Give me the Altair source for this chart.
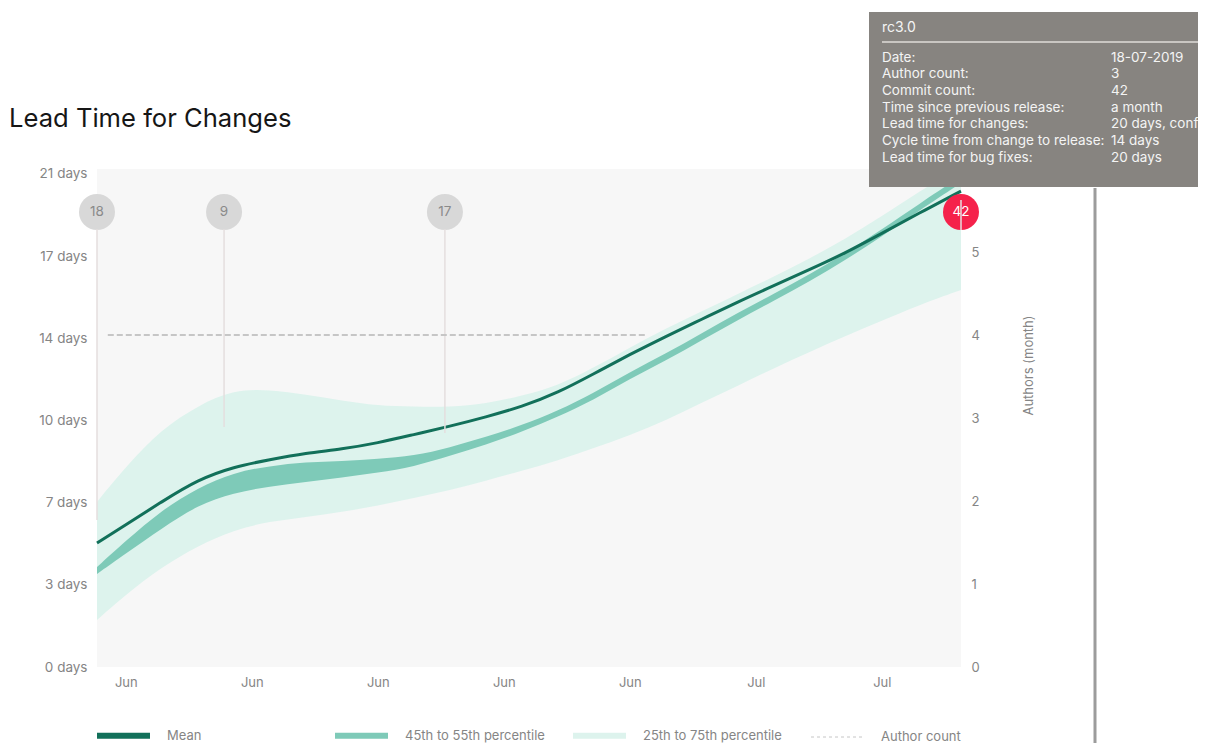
import altair as alt
import pandas as pd

# ---------------- data ----------------
dates = [
    "2019-05-31T09:36:00Z", "2019-06-02T00:00:00Z", "2019-06-04T00:00:00Z", "2019-06-06T00:00:00Z",
    "2019-06-08T00:00:00Z", "2019-06-10T00:00:00Z", "2019-06-12T00:00:00Z", "2019-06-14T00:00:00Z",
    "2019-06-16T00:00:00Z", "2019-06-18T00:00:00Z", "2019-06-20T00:00:00Z", "2019-06-22T00:00:00Z",
    "2019-06-24T00:00:00Z", "2019-06-26T00:00:00Z", "2019-06-28T00:00:00Z", "2019-06-30T00:00:00Z",
    "2019-07-02T00:00:00Z", "2019-07-04T00:00:00Z", "2019-07-06T00:00:00Z", "2019-07-08T00:00:00Z",
    "2019-07-10T00:00:00Z", "2019-07-12T00:00:00Z", "2019-07-14T00:00:00Z", "2019-07-16T00:00:00Z",
    "2019-07-18T09:36:00Z",
]
mean_days = [5.28, 6.06, 7.04, 7.98, 8.53, 8.83, 9.11, 9.28, 9.54, 9.90, 10.25, 10.65, 11.08,
             11.68, 12.49, 13.31, 14.08, 14.81, 15.55, 16.24, 16.93, 17.64, 18.47, 19.30, 20.27]
p55_days = [4.26, 5.37, 6.69, 7.63, 8.29, 8.56, 8.73, 8.77, 8.86, 8.99, 9.35, 9.79, 10.30,
            10.91, 11.67, 12.56, 13.35, 14.22, 15.08, 15.90, 16.72, 17.64, 18.64, 19.68, 20.91]
p45_days = [3.96, 4.83, 5.90, 6.90, 7.42, 7.69, 7.88, 8.07, 8.28, 8.53, 8.99, 9.47, 10.01,
            10.66, 11.38, 12.27, 13.05, 13.92, 14.78, 15.60, 16.42, 17.34, 18.34, 19.39, 20.61]
p75_days = [7.03, 8.53, 10.14, 11.13, 11.81, 11.81, 11.60, 11.35, 11.13, 11.09, 11.07, 11.22, 11.54,
            11.98, 12.75, 13.61, 14.42, 15.15, 15.89, 16.62, 17.40, 18.24, 19.20, 20.20, 21.38]
p25_days = [2.00, 3.08, 4.26, 5.16, 5.84, 6.20, 6.39, 6.60, 6.87, 7.20, 7.53, 7.93, 8.36,
            8.79, 9.33, 9.87, 10.50, 11.26, 11.97, 12.73, 13.42, 14.10, 14.74, 15.40, 16.06]

release_dates = ["2019-05-31T09:36:00Z", "2019-06-07T11:00:00Z", "2019-06-19T17:30:00Z", "2019-07-18T09:36:00Z"]
release_commits = [18, 9, 17, 42]
release_rule_low = [6.26, 10.22, 9.97, 18.61]
release_rule_high = [18.65, 18.65, 18.65, 19.89]
release_selected = [False, False, False, True]

author_months = ["2019-06-01T00:00:00Z", "2019-07-01T00:00:00Z"]
author_counts = [4, 4]

x_tick_dates = ["2019-06-02", "2019-06-09", "2019-06-16", "2019-06-23", "2019-06-30", "2019-07-07", "2019-07-14"]
y_tick_values = [0, 3.5, 7, 10.5, 14, 17.5, 21]
y_tick_labels = ["0 days", "3 days", "7 days", "10 days", "14 days", "17 days", "21 days"]
author_ticks = [0, 1, 2, 3, 4, 5]

legend_series = ["Mean", "45th to 55th percentile", "25th to 75th percentile", "Author count"]

chart_title = "Lead Time for Changes"
tooltip_title = "rc3.0"
tooltip_labels = ["Date:", "Author count:", "Commit count:", "Time since previous release:",
                  "Lead time for changes:", "Cycle time from change to release:", "Lead time for bug fixes:"]
tooltip_values = ["18-07-2019", "3", "42", "a month", "20 days, confidence", "14 days", "20 days"]

# ---------------- styles ----------------
DARK = "#12705a"
TEAL = "#7ecab8"
LIGHT = "#ddf3ed"
DASH = "#c6c6c6"
GRAY_TXT = "#858585"
FONT = "Inter"
W, H = 864, 498
INTERP = "basis"


def dt(s):
    t = pd.Timestamp(s)
    return alt.DateTime(year=t.year, month=t.month, date=t.day, hours=t.hour, minutes=t.minute, utc=True)


x_domain = [dt(release_dates[0]), dt(release_dates[-1])]
x_scale = alt.Scale(type="utc", domain=x_domain)

df = pd.DataFrame({"date": dates, "mean": mean_days, "p45": p45_days, "p55": p55_days,
                   "p25": p25_days, "p75": p75_days})
rel_df = pd.DataFrame({"date": release_dates, "commits": release_commits, "low": release_rule_low,
                       "high": release_rule_high, "sel": release_selected})
auth_df = pd.DataFrame({"month": author_months, "authors": author_counts})
leg_df = pd.DataFrame({"series": legend_series})

label_expr = "{}[indexof({}, datum.value)]".format(
    "[" + ",".join("'%s'" % s for s in y_tick_labels) + "]",
    "[" + ",".join(str(v) for v in y_tick_values) + "]")

x_axis = alt.Axis(values=[dt(d) for d in x_tick_dates], labelExpr="utcFormat(datum.value, '%b')",
                  title=None, ticks=False, domain=False, grid=False, labelPadding=9, labelFontSize=13,
                  labelColor=GRAY_TXT, labelFont=FONT)
y_axis = alt.Axis(values=y_tick_values, labelExpr=label_expr, title=None, ticks=False, domain=False,
                  grid=False, labelPadding=10, labelFontSize=13.5, labelColor=GRAY_TXT, labelFont=FONT)


def X(field="date"):
    return alt.X(field + ":T", scale=x_scale, axis=x_axis, title=None)


Y_SCALE = alt.Scale(domain=[0, 21.21], nice=False, zero=False)

light = alt.Chart(df).mark_area(color=LIGHT, interpolate=INTERP, clip=True).encode(
    x=X(), y=alt.Y("p25:Q", scale=Y_SCALE, axis=y_axis, title=None), y2="p75:Q")
band = alt.Chart(df).mark_area(color=TEAL, interpolate=INTERP, clip=True).encode(
    x=X(), y=alt.Y("p45:Q", scale=Y_SCALE, axis=y_axis, title=None), y2="p55:Q")
mean = alt.Chart(df).mark_line(color=DARK, strokeWidth=3, interpolate=INTERP).encode(
    x=X(), y=alt.Y("mean:Q", scale=Y_SCALE, axis=y_axis, title=None))

circles = alt.Chart(rel_df).mark_circle(size=1296, opacity=1).encode(
    x=X(), y=alt.value(43),
    color=alt.condition("datum.sel", alt.value("#f5224b"), alt.value("#d8d8d8")))
circle_text = alt.Chart(rel_df).mark_text(fontSize=13.5, font=FONT, baseline="middle").encode(
    x=X(), y=alt.value(43), text="commits:N",
    color=alt.condition("datum.sel", alt.value("#ffffff"), alt.value("#8a8a8a")))
rules = alt.Chart(rel_df).mark_rule(color="#e4dede", strokeWidth=1.5).encode(
    x=X(), y=alt.Y("low:Q", scale=Y_SCALE, axis=y_axis, title=None), y2="high:Q")

leg = alt.Legend(orient="none", legendX=-3, legendY=537, direction="horizontal", columns=4,
                 gridAlign="all", columnPadding=16, labelOffset=14, symbolType="stroke",
                 symbolSize=2809, labelFontSize=13, labelColor=GRAY_TXT, labelFont=FONT, title=None)
legend_layer = alt.Chart(leg_df).mark_line().encode(
    x=X(), y=alt.Y("mean:Q", scale=Y_SCALE, axis=y_axis, title=None),
    color=alt.Color("series:N", scale=alt.Scale(domain=legend_series, range=[DARK, TEAL, LIGHT, DASH]), legend=leg),
    strokeDash=alt.StrokeDash("series:N", scale=alt.Scale(domain=legend_series, range=[[1, 0], [1, 0], [1, 0], [3, 3]]), legend=leg),
    strokeWidth=alt.StrokeWidth("series:N", scale=alt.Scale(type="ordinal", domain=legend_series, range=[6, 6, 6, 1]), legend=leg),
)

days_layer = alt.layer(light, band, mean, circles, circle_text, rules, legend_layer)

right_axis = alt.Axis(orient="right", values=author_ticks, title="Authors (month)", titleAngle=270,
                      titleX=67, titleY=196, titleAlign="center", titleBaseline="middle",
                      titleFontSize=13, titleFontWeight="normal", titleColor=GRAY_TXT, titleFont=FONT,
                      ticks=False, domain=False, grid=False, labelPadding=10, labelFontSize=13,
                      labelColor=GRAY_TXT, labelFont=FONT)
authors = alt.Chart(auth_df).mark_line(color=DASH, strokeDash=[6, 3], strokeWidth=2).encode(
    x=X("month"),
    y=alt.Y("authors:Q", scale=alt.Scale(domain=[0, 6], nice=False), axis=right_axis))

one = pd.DataFrame({"k": [0]})
title_mark = alt.Chart(one).mark_text(text=chart_title, fontSize=25.6, font=FONT, color="#161616",
                                       align="left", baseline="alphabetic").encode(
    x=alt.value(-88), y=alt.value(-42.3))
divider = alt.Chart(one).mark_rule(color="#9c9c9c", strokeWidth=3).encode(
    x=alt.value(998), y=alt.value(19), y2=alt.value(600))
tip_box = alt.Chart(one).mark_rect(color="#878480").encode(
    x=alt.value(772), x2=alt.value(1120), y=alt.value(-157), y2=alt.value(18))
tip_line = alt.Chart(one).mark_rule(color="#c9c6c2", strokeWidth=2).encode(
    x=alt.value(785), x2=alt.value(1120), y=alt.value(-127))
tip_title = alt.Chart(one).mark_text(text=tooltip_title, fontSize=14, font=FONT, color="#f4f4f4",
                                      align="left", baseline="middle").encode(
    x=alt.value(785), y=alt.value(-141))
tip_labels = alt.Chart(one).mark_text(text="\n".join(tooltip_labels), lineBreak="\n", lineHeight=16.67,
                                       fontSize=13.5, font=FONT, color="#f4f4f4", align="left",
                                       baseline="alphabetic").encode(
    x=alt.value(785), y=alt.value(-107.5))
tip_values = alt.Chart(one).mark_text(text="\n".join(tooltip_values), lineBreak="\n", lineHeight=16.67,
                                       fontSize=13.5, font=FONT, color="#f4f4f4", align="left",
                                       baseline="alphabetic").encode(
    x=alt.value(1014), y=alt.value(-107.5))

overlay = alt.layer(title_mark, divider, tip_box, tip_line, tip_title, tip_labels, tip_values)

chart = alt.layer(days_layer, authors, overlay).resolve_scale(y="independent").properties(
    width=W, height=H,
    padding={"left": 89, "top": 161, "right": 237, "bottom": 76},
    autosize=alt.AutoSizeParams(type="none"),
).configure_view(fill="#f7f7f7", stroke=None).configure_axis(
    labelFont=FONT, labelColor=GRAY_TXT, ticks=False, domain=False, grid=False)

chart.save("out.html", embed_options={"renderer": "svg", "actions": False})
